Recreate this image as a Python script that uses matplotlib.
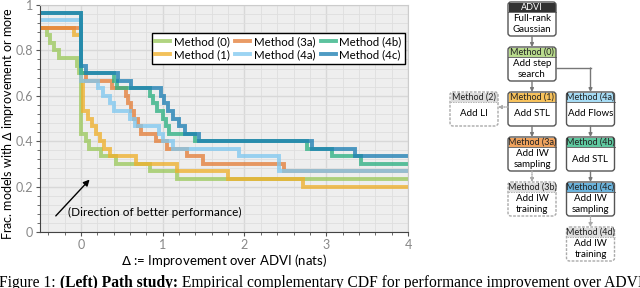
import matplotlib
matplotlib.use("Agg")
import matplotlib.pyplot as plt
from matplotlib.patches import FancyBboxPatch, Rectangle
from matplotlib.lines import Line2D
from matplotlib.ticker import MultipleLocator

plt.rcParams["font.family"] = ["Lato", "DejaVu Sans"]

# ---- data: empirical complementary CDF, counts out of 30 models ----
N_MODELS = 30
X_MIN, X_MAX = -0.5, 4.0

methods = ["Method (0)", "Method (1)", "Method (3a)", "Method (4a)", "Method (4b)", "Method (4c)"]
colors = ["#9cc95e", "#efb02c", "#e47f3a", "#80c8f0", "#2eb183", "#1d7fb3"]

start_0 = 27
drops_0 = [-0.42, -0.38, -0.33, -0.27, -0.05, -0.02, 0.0, 0.06, 0.10, 0.24, 0.43, 0.85, 1.18]
counts_0 = [26, 25, 24, 23, 22, 21, 13, 12, 11, 10, 9, 8, 7]

start_1 = 27
drops_1 = [-0.09, 0.0, 0.03, 0.09, 0.13, 0.18, 0.23, 0.28, 0.35, 0.67, 1.18, 1.80, 2.72]
counts_1 = [26, 20, 16, 15, 14, 13, 12, 11, 10, 9, 8, 7, 6]

start_3a = 27
drops_3a = [0.0, 0.06, 0.38, 0.55, 0.58, 0.61, 0.65, 0.70, 0.74, 0.92, 1.05, 1.30, 1.49, 2.48]
counts_3a = [21, 20, 19, 18, 17, 16, 15, 14, 13, 12, 11, 10, 9, 8]

start_4a = 28
drops_4a = [0.0, 0.21, 0.27, 0.35, 0.40, 0.60, 0.66, 0.95, 1.0, 1.13, 1.93, 2.42]
counts_4a = [20, 19, 18, 17, 16, 15, 14, 13, 12, 11, 10, 8]

start_4b = 29
drops_4b = [0.0, 0.40, 0.44, 0.85, 0.88, 0.93, 1.0, 1.04, 1.08, 1.40, 2.77, 3.07, 3.42]
counts_4b = [21, 20, 19, 18, 17, 16, 15, 14, 13, 12, 11, 10, 9]

start_4c = 29
drops_4c = [0.0, 0.06, 0.45, 0.61, 0.98, 1.02, 1.06, 1.13, 1.20, 1.27, 1.44, 2.83, 3.35]
counts_4c = [22, 21, 20, 19, 18, 17, 16, 15, 14, 13, 12, 11, 10]

series = [
    (start_0, drops_0, counts_0),
    (start_1, drops_1, counts_1),
    (start_3a, drops_3a, counts_3a),
    (start_4a, drops_4a, counts_4a),
    (start_4b, drops_4b, counts_4b),
    (start_4c, drops_4c, counts_4c),
]

x_ticks = [0, 1, 2, 3, 4]
y_ticks = [0, 0.2, 0.4, 0.6, 0.8, 1.0]
y_tick_labels = ["0", "0.2", "0.4", "0.6", "0.8", "1"]

# ---- flow diagram content ----
boxes = [
    ("ADVI", "Full-rank\nGaussian", 1, 0, "#333333", False),
    ("Method (0)", "Add step\nsearch", 1, 1, "#b9db8d", False),
    ("Method (2)", "Add LI", 0, 2, "#dddddd", True),
    ("Method (1)", "Add STL", 1, 2, "#f7c25c", False),
    ("Method (4a)", "Add Flows", 2, 2, "#a6dcf5", False),
    ("Method (3a)", "Add IW\nsampling", 1, 3, "#f0a35e", False),
    ("Method (4b)", "Add STL", 2, 3, "#5fc9a0", False),
    ("Method (3b)", "Add IW\ntraining", 1, 4, "#dddddd", True),
    ("Method (4c)", "Add IW\nsampling", 2, 4, "#6bb3dc", False),
    ("Method (4d)", "Add IW\ntraining", 2, 5, "#dddddd", True),
]
links = [
    ("ADVI", "Method (0)", "solid"),
    ("Method (0)", "Method (1)", "solid"),
    ("Method (0)", "Method (4a)", "elbow"),
    ("Method (1)", "Method (2)", "side"),
    ("Method (1)", "Method (3a)", "solid"),
    ("Method (4a)", "Method (4b)", "solid"),
    ("Method (3a)", "Method (3b)", "dotted"),
    ("Method (4b)", "Method (4c)", "solid"),
    ("Method (4c)", "Method (4d)", "dotted"),
]

fig = plt.figure(figsize=(6.4, 2.88), dpi=100)

# ---- left: step chart ----
ax = fig.add_axes([40 / 640, 1 - 232 / 288, 368 / 640, 227 / 288])
ax.set_facecolor("#eeeeee")
for (start, drops, counts), label, c in zip(series, methods, colors):
    xs = [X_MIN] + drops + [X_MAX]
    ys = [start] + counts + [counts[-1]]
    ys = [v / N_MODELS for v in ys]
    ax.step(xs, ys, where="post", color=c, lw=2.8, alpha=0.78, label=label,
            solid_joinstyle="miter")

ax.set_xlim(X_MIN, X_MAX)
ax.set_ylim(0, 1)
ax.set_xticks(x_ticks)
ax.set_yticks(y_ticks)
ax.set_yticklabels(y_tick_labels)
ax.xaxis.set_minor_locator(MultipleLocator(0.2))
ax.yaxis.set_minor_locator(MultipleLocator(0.04))
ax.grid(which="major", color="#d8d8d8", lw=1.0)
ax.grid(which="minor", color="#dedede", lw=0.6)
ax.set_axisbelow(True)
ax.tick_params(which="both", direction="out", colors="#555555", labelcolor="#888888",
               labelsize=9, length=3, pad=2)
ax.tick_params(which="minor", length=2)
for s in ["left", "bottom"]:
    ax.spines[s].set_color("#444444")
for s in ["top", "right"]:
    ax.spines[s].set_color("#cccccc")
ax.set_xlabel(r"$\Delta$ := Improvement over ADVI (nats)", fontsize=9.5, labelpad=1)
ax.set_ylabel(r"Frac. models with $\Delta$ improvement or more", fontsize=9, va="center")
ax.yaxis.set_label_coords(-0.087, 0.48)

handles = [Line2D([], [], color=c, lw=2.8, alpha=0.78) for c in colors]
leg = ax.legend(handles, methods, ncol=3, loc="upper right", bbox_to_anchor=(0.992, 0.877),
                fontsize=8.3, frameon=True, fancybox=False, framealpha=1, edgecolor="black",
                handlelength=1.3, handletextpad=0.3, columnspacing=0.5,
                labelspacing=0.15, borderpad=0.3, borderaxespad=0)
leg.get_frame().set_linewidth(1.0)

ax.annotate("", xy=(0.13, 0.24), xytext=(-0.33, 0.062),
            arrowprops=dict(arrowstyle="-|>", color="black", lw=1, mutation_scale=9))
ax.text(-0.16, 0.088, "(Direction of better performance)", fontsize=8.5, va="center")

# ---- right: flow diagram, pixel coordinates ----
dg = fig.add_axes([0, 0, 1, 1])
dg.set_xlim(0, 640)
dg.set_ylim(288, 0)
dg.axis("off")

col_x = [474, 532, 590.5]
box_w, box_h, head_h = 48, 34, 9
pos = {}
for title, body, col, row, hc, dashed in boxes:
    x0 = col_x[col] - box_w / 2
    y0 = 2 + 45 * row
    pos[title] = (x0, y0)
    ls = (0, (2, 1)) if dashed else "solid"
    ec = "#aaaaaa" if dashed else "#555555"
    dg.add_patch(FancyBboxPatch((x0, y0), box_w, box_h, boxstyle="round,pad=0,rounding_size=3",
                                fc="white", ec="none"))
    dg.add_patch(Rectangle((x0 + 0.5, y0 + 0.5), box_w - 1, head_h, fc=hc, ec="none"))
    dg.add_patch(FancyBboxPatch((x0, y0), box_w, box_h, boxstyle="round,pad=0,rounding_size=3",
                                fc="none", ec=ec, lw=1.0, ls=ls))
    dg.plot([x0, x0 + box_w], [y0 + head_h + 0.5] * 2, color=ec, lw=0.6, ls=ls)
    tc = "white" if title == "ADVI" else "#222222"
    dg.text(col_x[col], y0 + head_h / 2 + 0.8, title, ha="center", va="center",
            fontsize=6.5, color=tc)
    dg.text(col_x[col], y0 + head_h + (box_h - head_h) / 2 + 0.5, body, ha="center",
            va="center", fontsize=7.0, linespacing=1.4)

arrow_kw = dict(arrowstyle="-|>", color="#777777", lw=1, mutation_scale=5, shrinkA=0, shrinkB=0)
for a, b, kind in links:
    ax0, ay0 = pos[a]
    bx0, by0 = pos[b]
    if kind == "elbow":
        yy = ay0 + box_h / 2 + 4
        dg.plot([ax0 + box_w, bx0 + box_w / 2], [yy, yy], color="#777777", lw=1)
        dg.annotate("", xy=(bx0 + box_w / 2, by0), xytext=(bx0 + box_w / 2, yy), arrowprops=arrow_kw)
    elif kind == "side":
        yy = ay0 + 15
        kw = dict(arrow_kw, color="#aaaaaa", ls=(0, (1, 1)))
        dg.annotate("", xy=(bx0 + box_w, yy), xytext=(ax0, yy), arrowprops=kw)
    else:
        kw = dict(arrow_kw)
        if kind == "dotted":
            kw.update(color="#aaaaaa", ls=(0, (1, 1)))
        cx = ax0 + box_w / 2
        dg.annotate("", xy=(cx, by0), xytext=(cx, ay0 + box_h), arrowprops=kw)

# ---- caption (cut off at the bottom edge) ----
renderer = fig.canvas.get_renderer()
parts = [("Figure 1: ", "normal"), ("(Left) Path study:", "bold"),
         (" Empirical complementary CDF for performance improvement over ADVI", "normal")]
cx = -1
for txt, wt in parts:
    t = fig.text(cx / 640, 1 - 275 / 288, txt, fontsize=11.2, fontweight=wt, va="top",
                 family="Liberation Serif")
    cx += t.get_window_extent(renderer).width

fig.savefig("out.png", dpi=100)
